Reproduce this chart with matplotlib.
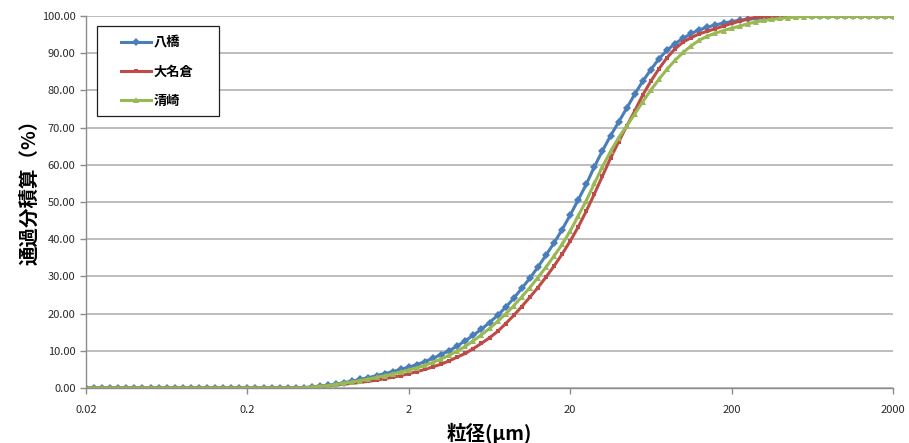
import matplotlib
matplotlib.use("Agg")
import matplotlib.pyplot as plt
from matplotlib.patches import Rectangle
from matplotlib.ticker import FixedLocator, FixedFormatter, NullLocator, FormatStrFormatter

plt.rcParams['font.family'] = ['Noto Sans CJK JP', 'DejaVu Sans']

# particle size channels (um)
sizes = [0.02, 0.02244, 0.02518, 0.02825, 0.0317, 0.03557, 0.03991, 0.04477, 0.05024, 0.05637,
         0.06325, 0.07096, 0.07962, 0.08934, 0.1002, 0.1125, 0.1262, 0.1416, 0.1589, 0.1783,
         0.2, 0.2244, 0.2518, 0.2825, 0.317, 0.3557, 0.3991, 0.4477, 0.5024, 0.5637,
         0.6325, 0.7096, 0.7962, 0.8934, 1.002, 1.125, 1.262, 1.416, 1.589, 1.783,
         2, 2.244, 2.518, 2.825, 3.17, 3.557, 3.991, 4.477, 5.024, 5.637,
         6.325, 7.096, 7.962, 8.934, 10.02, 11.25, 12.62, 14.16, 15.89, 17.83,
         20, 22.44, 25.18, 28.25, 31.7, 35.57, 39.91, 44.77, 50.24, 56.37,
         63.25, 70.96, 79.62, 89.34, 100.2, 112.5, 126.2, 141.6, 158.9, 178.3,
         200, 224.4, 251.8, 282.5, 317, 355.7, 399.1, 447.7, 502.4, 563.7,
         632.5, 709.6, 796.2, 893.4, 1002, 1125, 1262, 1416, 1589, 1783,
         2000]

yabase = [0] * 26 + [
    0.05, 0.1, 0.3, 0.5, 0.7, 1.05, 1.45, 1.85, 2.3, 2.8,
    3.3, 3.85, 4.4, 5.0, 5.6, 6.3, 7.1, 8.0, 9.0, 10.0,
    11.3, 12.7, 14.2, 15.8, 17.6, 19.5, 21.7, 24.1, 26.8, 29.5,
    32.5, 35.7, 39.0, 42.6, 46.5, 50.6, 54.8, 59.5, 63.8, 67.8,
    71.5, 75.2, 79.0, 82.5, 85.6, 88.5, 90.8, 92.6, 94.0, 95.3,
    96.3, 97.0, 97.6, 98.1, 98.5, 98.85, 99.1, 99.35, 99.55, 99.7,
    99.82, 99.9, 99.96] + [100] * 12

onagura = [0] * 27 + [
    0.05, 0.2, 0.4, 0.6, 0.8, 1.05, 1.25, 1.5, 1.8, 2.1,
    2.5, 2.9, 3.3, 3.85, 4.4, 5.0, 5.7, 6.4, 7.3, 8.3,
    9.3, 10.6, 12.0, 13.5, 15.2, 17.3, 19.5, 21.9, 24.4, 27.0,
    29.8, 32.8, 36.0, 39.5, 43.3, 47.6, 52.2, 57.0, 61.8, 66.2,
    70.4, 74.5, 78.8, 82.5, 85.8, 88.8, 91.2, 93.0, 94.2, 95.2,
    95.9, 96.6, 97.3, 98.0, 98.6, 99.2, 99.6, 99.85, 99.95] + [100] * 15

kiyosaki = [0] * 27 + [
    0.08, 0.25, 0.45, 0.65, 0.95, 1.3, 1.65, 2.0, 2.4, 2.85,
    3.3, 3.8, 4.3, 4.85, 5.4, 6.1, 6.9, 7.8, 8.8, 9.9,
    11.2, 12.7, 14.3, 16.0, 17.9, 19.9, 22.1, 24.5, 27.0, 29.7,
    32.5, 35.5, 38.6, 42.2, 46.3, 50.4, 55.0, 59.5, 63.6, 67.3,
    70.4, 73.7, 77.0, 80.1, 83.0, 85.7, 88.1, 90.2, 92.0, 93.5,
    94.6, 95.4, 96.1, 96.7, 97.3, 97.9, 98.4, 98.8, 99.1, 99.35,
    99.55, 99.7, 99.8, 99.88, 99.94, 99.98] + [100] * 8

series_names = ['八橋', '大名倉', '清崎']
xticks = [0.02, 0.2, 2, 20, 200, 2000]
xticklabels = ['0.02', '0.2', '2', '20', '200', '2000']
yticks = [0, 10, 20, 30, 40, 50, 60, 70, 80, 90, 100]

fig = plt.figure(figsize=(9.09, 4.43), dpi=100)
ax = fig.add_axes([86 / 909, 1 - 388 / 443, (893 - 86) / 909, (388 - 16) / 443])

styles = [
    dict(color='#4a7ebb', marker='D', markersize=3.8),
    dict(color='#be4b48', marker='s', markersize=3.5),
    dict(color='#98b954', marker='^', markersize=4.2),
]
for vals, name, st in zip([yabase, onagura, kiyosaki], series_names, styles):
    ax.plot(sizes, vals, label=name, linewidth=2.2, markeredgewidth=0, **st)

ax.set_xscale('log')
ax.set_xlim(0.02, 2000)
ax.set_ylim(0, 100)
ax.xaxis.set_major_locator(FixedLocator(xticks))
ax.xaxis.set_major_formatter(FixedFormatter(xticklabels))
ax.xaxis.set_minor_locator(NullLocator())
ax.set_yticks(yticks)
ax.yaxis.set_major_formatter(FormatStrFormatter('%.2f'))

ax.grid(axis='y', color='#bdbdbd', linewidth=1.4)
ax.set_axisbelow(True)
for s in ['top', 'right']:
    ax.spines[s].set_visible(False)
for s in ['left', 'bottom']:
    ax.spines[s].set_color('#8c8c8c')
    ax.spines[s].set_linewidth(1.0)
ax.tick_params(axis='both', colors='#8c8c8c', length=4, width=1.0, labelsize=8,
               labelcolor='#2a2a2a')
ax.tick_params(axis='x', pad=8)

ax.set_ylabel('通過分積算（%）', fontsize=14, fontweight='bold', labelpad=6)
ax.yaxis.set_label_coords(-0.058, 0.54)
ax.set_xlabel('粒径(μm)', fontsize=14, fontweight='bold', labelpad=6)

# legend frame
ax.add_patch(Rectangle((0.014, 0.731), 0.151, 0.242, transform=ax.transAxes,
                       facecolor='white', edgecolor='#202020', linewidth=0.9, zorder=4))
leg = ax.legend(loc='upper left', bbox_to_anchor=(0.043, 0.948), frameon=False,
                borderpad=0, borderaxespad=0, labelspacing=1.15, handlelength=2.3,
                handletextpad=0.2, numpoints=1, prop={'size': 9.5, 'weight': 'bold'})
leg.set_zorder(5)

fig.savefig('out.png', dpi=100)
